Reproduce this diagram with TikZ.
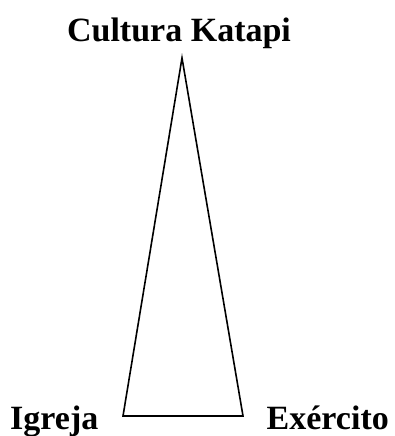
\documentclass[tikz,border=0pt]{standalone}
\usepackage{fontspec}
\setmainfont{Liberation Serif}
\begin{document}
\begin{tikzpicture}[x=1pt,y=1pt,
  lbl/.style={inner sep=0pt,font=\fontsize{34}{37}\selectfont\bfseries},
  edge/.style={line width=1.6pt,line join=miter}]
\useasboundingbox (0,0) rectangle (395,436);
\coordinate (top) at (182,378);
\coordinate (bl) at (123,20);
\coordinate (br) at (243,20);
\draw[edge] (top) -- (bl) -- (br) -- cycle;
\node[lbl,anchor=base] (cultura) at (179,394) {Cultura Katapi};
\node[lbl,anchor=base west] (igreja) at (10,6) {Igreja};
\node[lbl,anchor=base east] (exercito) at (389,6) {Exército};
\end{tikzpicture}
\end{document}
